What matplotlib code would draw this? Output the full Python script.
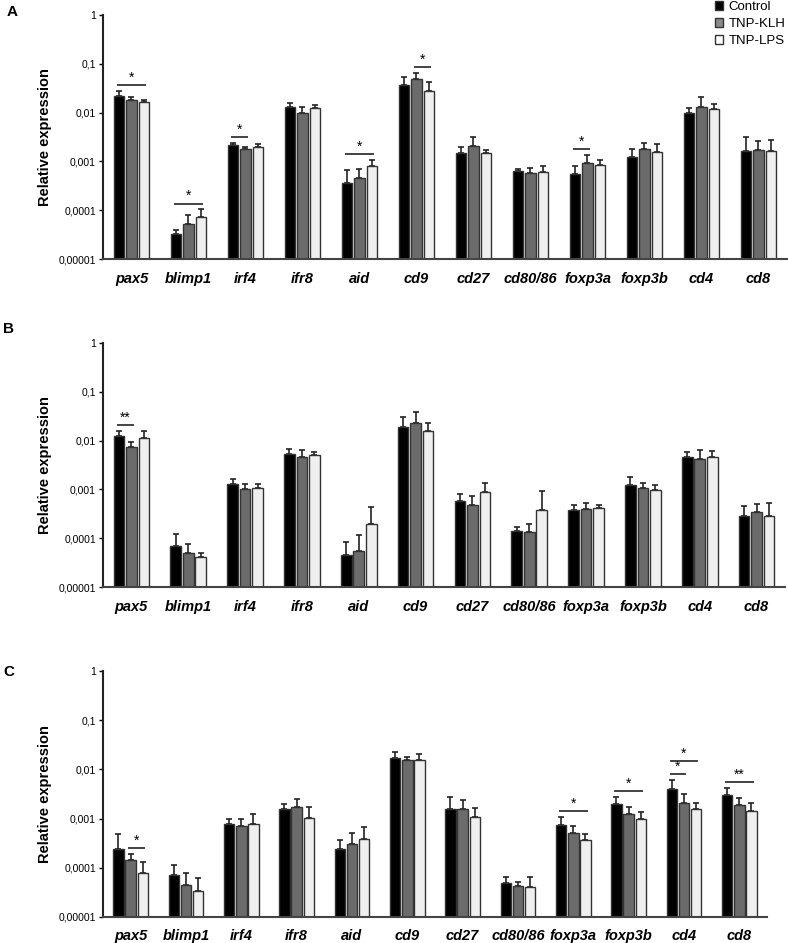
import matplotlib
matplotlib.use("Agg")
import matplotlib.pyplot as plt
from matplotlib.patches import Patch
import numpy as np

plt.rcParams['font.family'] = ['Liberation Sans', 'DejaVu Sans']

# genes on the x axis
genes = ['pax5', 'blimp1', 'irf4', 'ifr8', 'aid', 'cd9', 'cd27', 'cd80/86',
         'foxp3a', 'foxp3b', 'cd4', 'cd8']
groups = ['Control', 'TNP-KLH', 'TNP-LPS']

yticks = [1, 0.1, 0.01, 0.001, 0.0001, 0.00001]
ytick_labels = ['1', '0,1', '0,01', '0,001', '0,0001', '0,00001']

# panel A
a_ctrl = [0.0223, 3.25e-5, 0.00215, 0.0133, 3.6e-4, 0.0364, 0.00148, 6.4e-4, 5.6e-4, 0.00122, 0.0100, 0.00165]
a_ctrl_err = [0.0056, 0.73e-5, 0.00029, 0.0028, 3.1e-4, 0.0183, 0.00048, 0.66e-4, 2.5e-4, 0.00059, 0.0023, 0.00154]
a_klh = [0.0182, 5.2e-5, 0.00178, 0.0100, 4.55e-4, 0.0482, 0.00209, 5.9e-4, 9.5e-4, 0.00178, 0.0133, 0.00175]
a_klh_err = [0.0031, 2.9e-5, 0.00024, 0.0029, 2.4e-4, 0.0178, 0.00105, 1.3e-4, 4.1e-4, 0.00059, 0.008, 0.00093]
a_lps = [0.0166, 7.2e-5, 0.00202, 0.0123, 7.9e-4, 0.0283, 0.00148, 6.2e-4, 8.3e-4, 0.00157, 0.0121, 0.0016]
a_lps_err = [0.0016, 3.3e-5, 0.00027, 0.0019, 2.9e-4, 0.0136, 0.00022, 2.0e-4, 2.3e-4, 0.00069, 0.003, 0.00117]
# (gene, first bar, last bar, label, level)
a_sig = [(0, 0, 2, '*', 0), (1, 0, 2, '*', 0), (2, 0, 1, '*', 0), (4, 0, 2, '*', 0),
         (5, 1, 2, '*', 0), (8, 0, 1, '*', 0)]

# panel B
b_ctrl = [0.0126, 6.9e-5, 0.00131, 0.0054, 4.5e-5, 0.0193, 5.7e-4, 1.41e-4, 3.8e-4, 0.00121, 0.00469, 2.9e-4]
b_ctrl_err = [0.0034, 5.3e-5, 0.00032, 0.00144, 4.0e-5, 0.0116, 2.4e-4, 0.26e-4, 0.9e-4, 0.00058, 0.00106, 1.6e-4]
b_klh = [0.0075, 5.0e-5, 0.00104, 0.0046, 5.5e-5, 0.0226, 4.9e-4, 1.34e-4, 4.0e-4, 0.00105, 0.0042, 3.4e-4]
b_klh_err = [0.002, 2.7e-5, 0.00027, 0.0018, 6.0e-5, 0.016, 2.3e-4, 0.58e-4, 1.2e-4, 0.0003, 0.0023, 1.6e-4]
b_lps = [0.0115, 4.1e-5, 0.00105, 0.00515, 1.95e-4, 0.0157, 8.9e-4, 3.85e-4, 4.2e-4, 9.6e-4, 0.0046, 2.9e-4]
b_lps_err = [0.0045, 0.9e-5, 0.00024, 0.0006, 2.4e-4, 0.0072, 4.8e-4, 5.3e-4, 0.7e-4, 0.00027, 0.0014, 2.3e-4]
b_sig = [(0, 0, 1, '**', 0)]

# panel C
c_ctrl = [2.4e-4, 7.0e-5, 7.6e-4, 0.00155, 2.4e-4, 0.0167, 0.0016, 4.9e-5, 7.3e-4, 0.00196, 0.00397, 0.003]
c_ctrl_err = [2.4e-4, 4.6e-5, 2.4e-4, 0.00045, 1.3e-4, 0.0058, 0.0011, 1.6e-5, 3.5e-4, 0.0008, 0.0021, 0.0012]
c_klh = [1.47e-4, 4.5e-5, 7.2e-4, 0.00168, 3.0e-4, 0.0152, 0.00153, 4.3e-5, 5.0e-4, 0.00123, 0.00212, 0.00193]
c_klh_err = [0.44e-4, 3.4e-5, 2.8e-4, 0.00076, 2.1e-4, 0.0028, 0.0009, 0.85e-5, 2.0e-4, 0.0005, 0.00097, 0.0007]
c_lps = [8.0e-5, 3.4e-5, 7.8e-4, 0.00105, 3.9e-4, 0.0157, 0.0011, 4.1e-5, 3.6e-4, 9.9e-4, 0.00158, 0.00144]
c_lps_err = [4.8e-5, 2.8e-5, 4.7e-4, 0.00068, 2.8e-4, 0.0048, 0.00055, 2.3e-5, 1.2e-4, 0.0004, 0.00045, 0.00065]
c_sig = [(0, 1, 2, '*', 0), (8, 0, 2, '*', 0), (9, 0, 2, '*', 0), (10, 0, 1, '*', 0),
         (10, 0, 2, '*', 1), (11, 0, 2, '**', 0)]

colors = ['#000000', '#6b6b6b', '#efefef']
legend_colors = ['#000000', '#8a8a8a', '#ffffff']
edge = '#333333'
width = 0.19
step = 0.22
floor = 1e-5

fig = plt.figure(figsize=(7.88, 9.43), dpi=100)


def draw_panel(rect, means, errs, sigs):
    ax = fig.add_axes(rect)
    x = np.arange(len(genes))
    tops = []
    for k in range(3):
        xs = x + (k - 1) * step
        m = np.array(means[k])
        e = np.array(errs[k])
        ax.bar(xs, m - floor, width, bottom=floor, color=colors[k], edgecolor=edge,
               linewidth=1.0, zorder=2)
        ax.errorbar(xs, m, yerr=[np.zeros_like(e), e], fmt='none', ecolor='#222222',
                    elinewidth=1.2, capsize=2, capthick=1.2, zorder=1)
        tops.append(m + e)
    tops = np.array(tops)
    for g, i, j, lab, lvl in sigs:
        h = tops[i:j + 1, g].max() * 1.3 * (1.85 ** lvl)
        x0 = g + (i - 1) * step - 0.04
        x1 = g + (j - 1) * step + 0.04
        ax.plot([x0, x1], [h, h], color='#222222', lw=1.2, solid_capstyle='butt')
        ax.text((x0 + x1) / 2, h * 1.02, lab, ha='center', va='bottom', fontsize=10)
    ax.set_yscale('log')
    ax.set_ylim(floor, 1)
    ax.set_xlim(-0.5, len(genes) - 0.5)
    ax.set_yticks(yticks)
    ax.set_yticklabels(ytick_labels, fontsize=7.5)
    ax.minorticks_off()
    ax.tick_params(axis='y', length=3, width=1, pad=2)
    ax.set_xticks(x)
    ax.set_xticklabels(genes, fontsize=10.5, fontweight='bold', fontstyle='italic')
    ax.tick_params(axis='x', length=0, pad=9)
    for s in ['top', 'right']:
        ax.spines[s].set_visible(False)
    ax.spines['left'].set_linewidth(1.5)
    ax.spines['bottom'].set_linewidth(1.5)
    ax.spines['left'].set_color('#222222')
    ax.spines['bottom'].set_color('#444444')
    ax.set_ylabel('Relative expression', fontsize=10.5, fontweight='bold', labelpad=5)
    ax.patch.set_alpha(0)
    return ax


axA = draw_panel([0.1307, 0.7253, 0.868, 0.2588],
                 [a_ctrl, a_klh, a_lps], [a_ctrl_err, a_klh_err, a_lps_err], a_sig)
axB = draw_panel([0.1307, 0.3775, 0.8655, 0.2588],
                 [b_ctrl, b_klh, b_lps], [b_ctrl_err, b_klh_err, b_lps_err], b_sig)
axC = draw_panel([0.1307, 0.0276, 0.8426, 0.2609],
                 [c_ctrl, c_klh, c_lps], [c_ctrl_err, c_klh_err, c_lps_err], c_sig)

fig.text(0.009, 0.9945, 'A', fontsize=11, fontweight='bold', va='top')
fig.text(0.004, 0.6585, 'B', fontsize=11, fontweight='bold', va='top')
fig.text(0.004, 0.2945, 'C', fontsize=11, fontweight='bold', va='top')

handles = [Patch(facecolor=legend_colors[k], edgecolor=edge, linewidth=1.0) for k in range(3)]
fig.legend(handles, groups, loc='upper right', bbox_to_anchor=(1.012, 1.012), frameon=False,
           fontsize=9.5, handlelength=0.6, handleheight=0.7, handletextpad=0.45,
           labelspacing=0.38)

fig.savefig('out.png', dpi=100)
